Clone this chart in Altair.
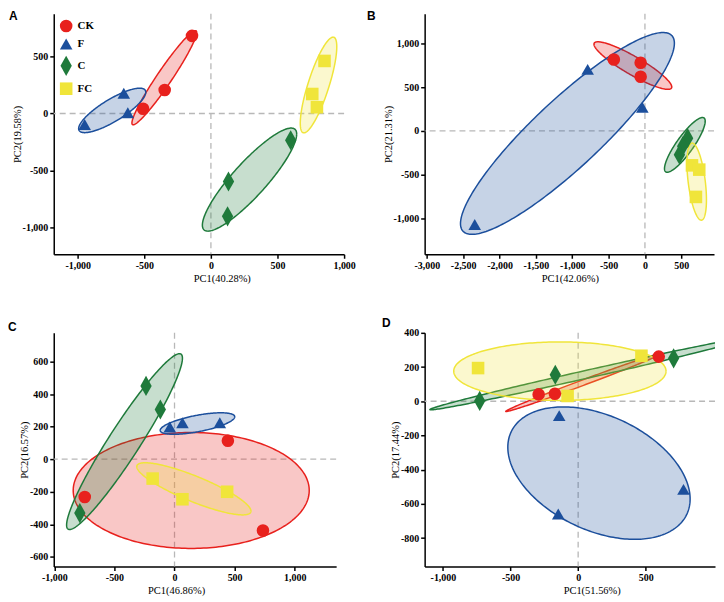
import numpy as np
import pandas as pd
import altair as alt

# ---------------- data ----------------
groups = ["CK", "F", "C", "FC"]
colors = ["#e8211d", "#1c4f9c", "#1f7a3b", "#f0e53a"]
diamond = "M0,-1.6L0.9,0L0,1.6L-0.9,0Z"
shapes = ["circle", "triangle-up", diamond, "square"]

sample_group = ["CK"] * 3 + ["F"] * 3 + ["C"] * 3 + ["FC"] * 3

# Panel A
A_pc1 = [-509, -347, -142, -654, -624, -948, 599, 132, 125, 853, 761, 796]
A_pc2 = [41, 206, 681, 177, 6, -96, -235, -597, -902, 461, 171, 55]
# Panel B
B_pc1 = [-428, -59, -59, -788, -36, -2341, 587, 519, 474, 647, 747, 701]
B_pc2 = [816, 778, 619, 702, 270, -1071, -84, -178, -273, -395, -444, -756]
# Panel C
C_pc1 = [444, -747, 736, -39, 66, 377, -237, -118, -788, -182, 66, 438]
C_pc2 = [113, -232, -438, 198, 224, 224, 450, 305, -331, -119, -246, -200]
# Panel D
D_pc1 = [-292, -172, 596, -140, -147, 779, -728, -169, 706, -740, 468, -78]
D_pc2 = [40, 44, 261, -84, -659, -515, 2, 155, 251, 194, 266, 31]

# Confidence ellipses (order CK, F, C, FC): centre, half x-extent, half y-extent, phase (deg)
A_ell_cx = [-350, -741, 290, 808]
A_ell_cy = [314, 27, -580, 250]
A_ell_rx = [243, 252, 354, 137]
A_ell_ry = [413, 195, 452, 420]
A_ell_ph = [16, 35, 28, 37]

B_ell_cx = [-166, -1066, 549, 712]
B_ell_cy = [746, -30, -161, -581]
B_ell_rx = [535, 1471, 280, 134]
B_ell_ry = [272, 1154, 313, 441]
B_ell_ph = [154, 26.7, 30, 118]

C_ell_cx = [139, 191, -416, 161]
C_ell_cy = [-192, 219, 108, -182]
C_ell_rx = [982, 310, 482, 475]
C_ell_ry = [356, 66, 540, 160]
C_ell_ph = [90, 51, 18.5, 148.5]

D_ell_cx = [40, 154, 77, -135]
D_ell_cy = [110, -420, 160, 176]
D_ell_rx = [575, 674, 1173, 785]
D_ell_ry = [170, 387, 210, 171]
D_ell_ph = [5.7, 113, 6.5, 90]

LBL = "replace(format(datum.value, ','), '\u2212', '-')"


def points_df(pc1, pc2):
    return pd.DataFrame({"x": pc1, "y": pc2, "grp": sample_group})


def ellipse_df(cx, cy, rx, ry, ph):
    t = np.linspace(0, 2 * np.pi, 241)
    rows = []
    for g, a, b, X, Y, p in zip(groups, cx, cy, rx, ry, ph):
        r = np.radians(p)
        for i, tt in enumerate(t):
            rows.append({"grp": g, "i": i,
                         "x": a + X * np.cos(tt),
                         "y": b + Y * np.cos(tt - r)})
    return pd.DataFrame(rows)


def panel(letter, dx, toff, pts, ell, xdom, ydom, xticks, yticks, xtitle, ytitle,
          w, h, title_x, show_legend):
    xs = alt.Scale(domain=xdom, nice=False, zero=False)
    ys = alt.Scale(domain=ydom, nice=False, zero=False)
    xaxis = alt.Axis(values=xticks, title=xtitle, labelExpr=LBL, titleX=title_x)
    yaxis = alt.Axis(values=yticks, title=ytitle, labelExpr=LBL)
    X = alt.X("x:Q", scale=xs, axis=xaxis)
    Y = alt.Y("y:Q", scale=ys, axis=yaxis)
    cs = alt.Scale(domain=groups, range=colors)
    ss = alt.Scale(domain=groups, range=shapes)

    zero = pd.DataFrame({"x": [0], "y": [0]})
    rule = alt.Chart(zero).mark_rule(strokeDash=[6, 4], color="#b8b8b8", strokeWidth=1.3)
    layers = [rule.encode(x=X), rule.encode(y=Y)]

    base_ell = alt.Chart(ell)
    for g, c in zip(groups, colors):
        layers.append(
            base_ell.transform_filter(alt.datum.grp == g)
            .mark_line(clip=True, strokeWidth=1.5, fill=c, stroke=c, fillOpacity=0.25)
            .encode(x=X, y=Y, order="i:Q")
        )

    if show_legend:
        leg = alt.Legend(orient="top-left", offset=5, padding=0, title=None,
                         symbolSize=160, labelFont="Liberation Serif",
                         labelFontWeight="bold", labelFontSize=11, labelColor="black",
                         rowPadding=0, labelOffset=4, symbolOpacity=1)
    else:
        leg = None

    layers.append(
        alt.Chart(pts).mark_point(filled=True, opacity=1, size=160).encode(
            x=X, y=Y,
            color=alt.Color("grp:N", scale=cs, legend=leg),
            shape=alt.Shape("grp:N", scale=ss, legend=leg),
        )
    )

    return alt.layer(*layers).properties(
        width=w, height=h,
        title=alt.Title(letter, anchor="start", frame="group", dx=dx, offset=toff,
                        font="Liberation Sans", fontSize=12, fontWeight="bold",
                        color="black"),
    )


pA = panel("A", -45, -10, points_df(A_pc1, A_pc2),
           ellipse_df(A_ell_cx, A_ell_cy, A_ell_rx, A_ell_ry, A_ell_ph),
           [-1180, 1000], [-1235, 876], [-1000, -500, 0, 500, 1000], [-1000, -500, 0, 500],
           "PC1(40.28%)", "PC2(19.58%)", 292, 242, 169, True)
pB = panel("B", -58, -10, points_df(B_pc1, B_pc2),
           ellipse_df(B_ell_cx, B_ell_cy, B_ell_rx, B_ell_ry, B_ell_ph),
           [-3030, 950], [-1412, 1340],
           [-3000, -2500, -2000, -1500, -1000, -500, 0, 500], [-1000, -500, 0, 500, 1000],
           "PC1(42.06%)", "PC2(21.31%)", 291, 242, 146, False)
pC = panel("C", -46, -2, points_df(C_pc1, C_pc2),
           ellipse_df(C_ell_cx, C_ell_cy, C_ell_rx, C_ell_ry, C_ell_ph),
           [-1005, 1345], [-659, 776], [-1000, -500, 0, 500, 1000],
           [-600, -400, -200, 0, 200, 400, 600],
           "PC1(46.86%)", "PC2(16.57%)", 284, 235, 123, False)
pD = panel("D", -43, -2, points_df(D_pc1, D_pc2),
           ellipse_df(D_ell_cx, D_ell_cy, D_ell_rx, D_ell_ry, D_ell_ph),
           [-1135, 1012], [-966, 400], [-1000, -500, 0, 500],
           [-800, -600, -400, -200, 0, 200, 400],
           "PC1(51.56%)", "PC2(17.44%)", 292, 235, 168, False)

chart = alt.concat(pA, pB, pC, pD, columns=2, spacing={"row": 79, "column": 81},
                   bounds="flush").resolve_scale(
    color="independent", shape="independent"
).resolve_legend(color="independent", shape="independent").properties(
    padding={"left": 0, "top": 0, "right": 0, "bottom": 0}
).configure_view(stroke=None).configure_axis(
    grid=False, domainColor="black", domainWidth=1.5, tickColor="black", tickWidth=1.5,
    tickSize=4, labelFont="Liberation Serif", labelFontSize=10, labelFontWeight="bold",
    labelColor="black", labelPadding=2, labelFlush=False, titleFont="Liberation Serif",
    titleFontSize=10.5, titleFontWeight="normal", titleColor="black", titlePadding=3
).configure_axisY(titlePadding=0)

chart.save("out.html", embed_options={"renderer": "svg", "actions": False})
